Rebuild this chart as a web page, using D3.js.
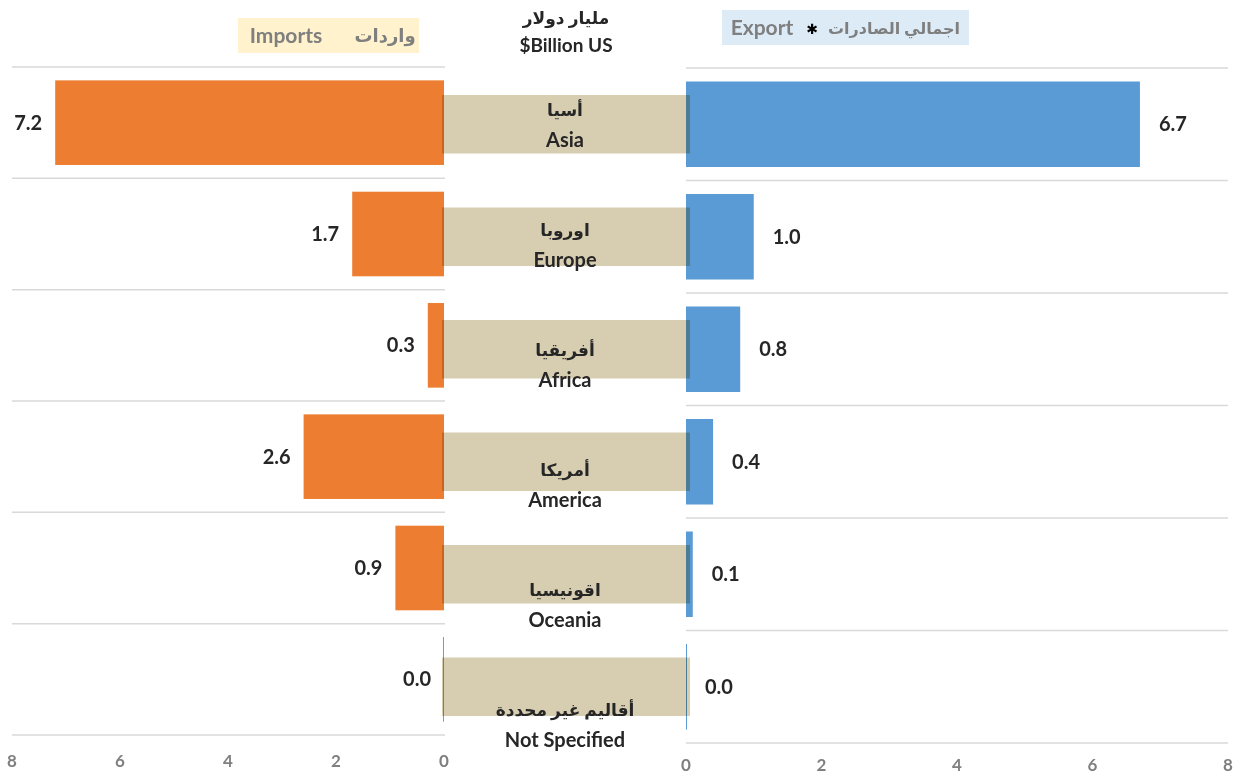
<!DOCTYPE html>
<html>
<head>
<meta charset="utf-8">
<script src="https://cdn.jsdelivr.net/npm/d3@7"></script>
<style>
	body { margin: 0; background: #fff; }
	text { font-family: Lato, "DejaVu Sans", sans-serif; font-weight: bold; }
</style>
</head>
<body>
<div id="chart"></div>
<script>
// data
const regionsEn = ["Asia", "Europe", "Africa", "America", "Oceania", "Not Specified"];
const regionsAr = ["أسيا", "اوروبا", "أفريقيا", "أمريكا", "اقونيسيا", "أقاليم غير محددة"];
const imports = [7.2, 1.7, 0.3, 2.6, 0.9, 0.0];
const exports = [6.7, 1.0, 0.8, 0.4, 0.1, 0.0];
const ticks = [0, 2, 4, 6, 8];

const W = 1236, H = 774;
const C = {
	orange: "#ED7D31",
	blue: "#5B9BD5",
	tan: "#D7CEB2",
	grid: "#D9D9D9",
	tick: "#7F7F7F",
	label: "#262626"
};

let svg = d3.select("#chart").append("svg")
	.attr("width", W)
	.attr("height", H);

let xL = d3.scaleLinear().domain([0, 8]).range([444, 12]);
let xR = d3.scaleLinear().domain([0, 8]).range([686, 1228]);

let yL = d3.scaleBand().domain(regionsEn).range([67, 735]).paddingInner(0.24).paddingOuter(0.12);
let yR = d3.scaleBand().domain(regionsEn).range([68, 743]).paddingInner(0.24).paddingOuter(0.12);
let yMid = d3.scaleBand().domain(regionsEn).range([68, 743]).paddingInner(0.48).paddingOuter(0.24);
let yLab = d3.scaleBand().domain(regionsEn).range([65, 785]);

/* gridlines at band edges */
let edgesL = regionsEn.map((d) => yL(d) - yL.step() * yL.paddingOuter()).concat([yL.range()[1]]);
let edgesR = regionsEn.map((d) => yR(d) - yR.step() * yR.paddingOuter()).concat([yR.range()[1]]);

svg.append("g").selectAll("line").data(edgesL).join("line")
	.attr("x1", xL(8)).attr("x2", xL(0) + 1)
	.attr("y1", (d) => d).attr("y2", (d) => d)
	.attr("stroke", C.grid).attr("stroke-width", 1.5);
svg.append("g").selectAll("line").data(edgesR).join("line")
	.attr("x1", xR(0)).attr("x2", xR(8))
	.attr("y1", (d) => d).attr("y2", (d) => d)
	.attr("stroke", C.grid).attr("stroke-width", 1.5);

/* imports bars */
svg.append("g").selectAll("rect").data(imports).join("rect")
	.attr("x", (d) => Math.min(xL(d), xL(0) - 1))
	.attr("width", (d) => Math.max(1, xL(0) - xL(d)))
	.attr("y", (d, i) => yL(regionsEn[i]))
	.attr("height", yL.bandwidth())
	.attr("fill", C.orange);

/* exports bars */
svg.append("g").selectAll("rect").data(exports).join("rect")
	.attr("x", xR(0))
	.attr("width", (d) => Math.max(1, xR(d) - xR(0)))
	.attr("y", (d, i) => yR(regionsEn[i]))
	.attr("height", yR.bandwidth())
	.attr("fill", C.blue);

/* middle category bars (multiply gives the dark overlap strip) */
let midX0 = xL(0) - 2, midX1 = xR(0) + 4;
svg.append("g").selectAll("rect").data(regionsEn).join("rect")
	.attr("x", midX0)
	.attr("width", midX1 - midX0)
	.attr("y", (d) => yMid(d))
	.attr("height", yMid.bandwidth())
	.attr("fill", C.tan)
	.style("mix-blend-mode", "multiply");

/* value labels */
svg.append("g").selectAll("text").data(imports).join("text")
	.attr("x", (d) => xL(d) - 13)
	.attr("y", (d, i) => yL(regionsEn[i]) + yL.bandwidth() / 2)
	.attr("dy", "0.35em")
	.attr("text-anchor", "end")
	.attr("font-size", 20)
	.attr("fill", C.label)
	.text((d) => d.toFixed(1));
svg.append("g").selectAll("text").data(exports).join("text")
	.attr("x", (d) => xR(d) + 19)
	.attr("y", (d, i) => yR(regionsEn[i]) + yR.bandwidth() / 2)
	.attr("dy", "0.35em")
	.attr("text-anchor", "start")
	.attr("font-size", 20)
	.attr("fill", C.label)
	.text((d) => d.toFixed(1));

/* category labels */
let midX = (xL(0) + xR(0)) / 2;
let lab = svg.append("g").selectAll("g").data(regionsEn).join("g")
	.attr("transform", (d) => `translate(${midX},${yLab(d) + yLab.bandwidth() / 2})`);
lab.append("text")
	.attr("y", -15)
	.attr("dy", "0.35em")
	.attr("text-anchor", "middle")
	.attr("font-size", 17)
	.attr("fill", C.label)
	.text((d, i) => regionsAr[i]);
lab.append("text")
	.attr("y", 15)
	.attr("dy", "0.35em")
	.attr("text-anchor", "middle")
	.attr("font-size", 20)
	.attr("fill", C.label)
	.text((d) => d);

/* axes tick labels */
svg.append("g").selectAll("text").data(ticks).join("text")
	.attr("x", (d) => xL(d))
	.attr("y", 761)
	.attr("dy", "0.35em")
	.attr("text-anchor", "middle")
	.attr("font-size", 17)
	.attr("fill", C.tick)
	.text((d) => d);
svg.append("g").selectAll("text").data(ticks).join("text")
	.attr("x", (d) => xR(d))
	.attr("y", 765)
	.attr("dy", "0.35em")
	.attr("text-anchor", "middle")
	.attr("font-size", 17)
	.attr("fill", C.tick)
	.text((d) => d);

/* headers */
svg.append("rect").attr("x", 238).attr("y", 18).attr("width", 181).attr("height", 35).attr("fill", "#FFF2CC");
svg.append("text").attr("x", 286).attr("y", 36).attr("dy", "0.35em").attr("text-anchor", "middle")
	.attr("font-size", 21).attr("fill", C.tick).text("Imports");
svg.append("text").attr("x", 385).attr("y", 36).attr("dy", "0.35em").attr("text-anchor", "middle")
	.attr("font-size", 18).attr("fill", C.tick).text("واردات");

svg.append("rect").attr("x", 722).attr("y", 10).attr("width", 247).attr("height", 35).attr("fill", "#DDEBF7");
svg.append("text").attr("x", 762).attr("y", 28).attr("dy", "0.35em").attr("text-anchor", "middle")
	.attr("font-size", 21).attr("fill", C.tick).text("Export");
svg.append("text").attr("x", 812).attr("y", 29).attr("dy", "0.35em").attr("text-anchor", "middle")
	.attr("font-size", 14).attr("fill", "#000").text("✱");
svg.append("text").attr("x", 894).attr("y", 28).attr("dy", "0.35em").attr("text-anchor", "middle")
	.attr("font-size", 16).attr("fill", C.tick).text("اجمالي الصادرات");

svg.append("text").attr("x", 566).attr("y", 18).attr("dy", "0.35em").attr("text-anchor", "middle")
	.attr("font-size", 17).attr("fill", C.label).text("مليار دولار");
svg.append("text").attr("x", 566).attr("y", 45).attr("dy", "0.35em").attr("text-anchor", "middle")
	.attr("font-size", 19).attr("fill", C.label).text("$Billion US");
</script>
</body>
</html>
